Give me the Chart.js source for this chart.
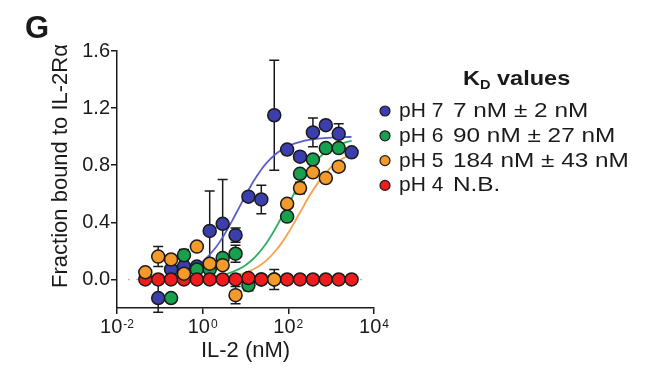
<!DOCTYPE html>
<html>
<head>
<meta charset="utf-8">
<script src="https://cdn.jsdelivr.net/npm/chart.js@4.4.1/dist/chart.umd.min.js"></script>
<style>
  html, body { margin: 0; padding: 0; background: #fff; }
</style>
</head>
<body>
<canvas id="kdChart" width="650" height="374"></canvas>
<script>
// IL-2 concentrations (nM), 2-fold dilution series
const CONC = [0.0458, 0.0916, 0.183, 0.366, 0.732, 1.46, 2.93, 5.86, 11.7, 23.4, 46.9, 93.8, 187.5, 375, 750, 1500, 3000];

// fraction bound (null = hidden / not shown)
const PH7 = [null, -0.13, 0.07, 0.09, 0.09, 0.34, 0.39, 0.31, 0.58, 0.56, 1.15, 0.91, 0.86, 1.03, 1.08, 1.02, 0.89];
const PH6 = [null, null, -0.13, 0.17, 0.07, 0.07, 0.15, 0.18, -0.04, 0.0, null, 0.44, 0.74, 0.84, 0.92, 0.92, null];
const PH5 = [0.05, 0.16, 0.14, 0.04, 0.23, 0.11, 0.10, -0.11, null, null, 0.0, 0.53, 0.64, 0.75, 0.71, 0.79, null];
const PH4 = [0, 0, 0, 0, 0, 0, 0, 0, 0.01, 0, 0, 0, 0, 0, 0, 0, 0];

// error bar half-widths (null = no visible bar)
const PH7_ERR = [null, 0.1, null, null, null, 0.28, 0.31, 0.05, null, 0.1, 0.385, null, 0.03, 0.1, null, 0.07, null];
const PH6_ERR = [null, null, null, 0.04, null, null, null, 0.06, 0.04, null, null, null, null, null, null, null, null];
const PH5_ERR = [null, 0.07, null, null, null, null, null, 0.06, null, null, 0.07, null, 0.04, null, null, null, null];
const PH4_ERR = [null, 0.02, null, null, null, null, null, null, 0.02, null, null, null, null, null, null, null, null];

// fitted binding curves sampled off the figure
const FIT_X = [0.046, 0.1, 0.2, 0.5, 1, 2, 3, 5, 7, 10, 15, 20, 30, 50, 70, 100, 150, 200, 300, 500, 700, 1000, 1500, 2000, 3000];
const FIT_PH7 = [0.0065, 0.014, 0.028, 0.067, 0.125, 0.222, 0.30, 0.417, 0.50, 0.588, 0.682, 0.741, 0.811, 0.877, 0.909, 0.935, 0.955, 0.966, 0.977, 0.986, 0.990, 0.993, 0.995, 0.997, 0.998];
const FIT_PH6 = [0.0005, 0.0011, 0.0022, 0.0055, 0.011, 0.022, 0.032, 0.053, 0.072, 0.10, 0.143, 0.182, 0.25, 0.357, 0.4375, 0.526, 0.625, 0.69, 0.769, 0.847, 0.886, 0.917, 0.943, 0.957, 0.971];
const FIT_PH5 = [0.0002, 0.0005, 0.001, 0.0025, 0.005, 0.010, 0.015, 0.0246, 0.034, 0.048, 0.070, 0.091, 0.130, 0.199, 0.256, 0.327, 0.418, 0.484, 0.577, 0.680, 0.736, 0.786, 0.828, 0.852, 0.876];

// dotted baseline ends
const BASE_X = [0.018, 5800];
const BASE_Y = [0, 0];

const X_TICKS = [0.01, 1, 100, 10000];
const X_EXP = ['-2', '0', '2', '4'];
const Y_TICKS = [0, 0.4, 0.8, 1.2, 1.6];

const LEGEND_PH = ['pH 7', 'pH 6', 'pH 5', 'pH 4'];
const LEGEND_KD = ['7 nM \u00b1 2 nM', '90 nM \u00b1 27 nM', '184 nM \u00b1 43 nM', 'N.B.'];
const Y_TITLE = 'Fraction bound to IL-2R\u03b1';

const FONT = '"Liberation Sans", Arial, Helvetica, sans-serif';
const INK = '#1a1a1a';

const COLORS = {
    ph7: '#3b3fae',
    ph6: '#17a04e',
    ph5: '#f39a2b',
    ph4: '#ee1c1c'
};
const LINE_COLORS = {
    ph7: '#5a5ecb',
    ph6: '#2fb066',
    ph5: '#f6a24c'
};

const SERIES = [
    { key: 'ph7', values: PH7, err: PH7_ERR },
    { key: 'ph6', values: PH6, err: PH6_ERR },
    { key: 'ph5', values: PH5, err: PH5_ERR },
    { key: 'ph4', values: PH4, err: PH4_ERR }
];

function toPoints(xs, ys) {
    const pts = [];
    xs.forEach((x, i) => {
        if (ys[i] !== null) pts.push({ x: x, y: ys[i] });
    });
    return pts;
}

function pointSet(label, values, color, order) {
    return {
        type: 'scatter',
        label: label,
        data: toPoints(CONC, values),
        backgroundColor: color,
        borderColor: INK,
        borderWidth: 1.5,
        pointRadius: 6.5,
        order: order
    };
}

function curveSet(values, color, order) {
    return {
        type: 'line',
        data: toPoints(FIT_X, values),
        borderColor: color,
        borderWidth: 1.8,
        pointRadius: 0,
        fill: false,
        cubicInterpolationMode: 'monotone',
        order: order
    };
}

// error bars go under the markers
const errorBars = {
    id: 'errorBars',
    beforeDatasetsDraw(chart) {
        const { ctx, scales: { x, y } } = chart;
        ctx.save();
        ctx.strokeStyle = INK;
        ctx.lineWidth = 1.5;
        SERIES.forEach(s => {
            s.values.forEach((v, i) => {
                const e = s.err[i];
                if (v === null || e === null) return;
                const px = x.getPixelForValue(CONC[i]);
                const top = y.getPixelForValue(v + e);
                const bot = y.getPixelForValue(v - e);
                ctx.beginPath();
                ctx.moveTo(px, top); ctx.lineTo(px, bot);
                ctx.moveTo(px - 5, top); ctx.lineTo(px + 5, top);
                ctx.moveTo(px - 5, bot); ctx.lineTo(px + 5, bot);
                ctx.stroke();
            });
        });
        ctx.restore();
    }
};

function wideText(ctx, text, x, y, sx) {
    ctx.save();
    ctx.translate(x, y);
    ctx.scale(sx, 1);
    ctx.fillText(text, 0, 0);
    ctx.restore();
}

// panel letter, y title, x tick labels with exponents, KD legend
const annotations = {
    id: 'annotations',
    afterDraw(chart) {
        const { ctx, scales: { x } } = chart;
        ctx.save();
        ctx.fillStyle = INK;
        ctx.textBaseline = 'alphabetic';

        ctx.font = 'bold 31px ' + FONT;
        ctx.textAlign = 'left';
        ctx.fillText('G', 25, 38);

        // rotated y title
        ctx.save();
        ctx.translate(61, 166);
        ctx.rotate(-Math.PI / 2);
        ctx.font = '22px ' + FONT;
        ctx.textAlign = 'center';
        ctx.textBaseline = 'middle';
        ctx.fillText(Y_TITLE, 0, 0);
        ctx.restore();

        X_TICKS.forEach((v, i) => {
            const px = x.getPixelForValue(v);
            ctx.font = '20px ' + FONT;
            const wBase = ctx.measureText('10').width;
            ctx.font = '12px ' + FONT;
            const wExp = ctx.measureText(X_EXP[i]).width;
            const left = px - (wBase + 1 + wExp) / 2;
            ctx.font = '20px ' + FONT;
            ctx.fillText('10', left, 333);
            ctx.font = '12px ' + FONT;
            ctx.fillText(X_EXP[i], left + wBase + 1, 328);
        });

        const sx = 1.12;
        ctx.font = 'bold 21px ' + FONT;
        wideText(ctx, 'K', 463, 85, sx);
        const wK = ctx.measureText('K').width * sx;
        ctx.font = 'bold 13px ' + FONT;
        wideText(ctx, 'D', 463 + wK, 89, sx);
        const wD = ctx.measureText('D').width * sx;
        ctx.font = 'bold 21px ' + FONT;
        wideText(ctx, ' values', 463 + wK + wD, 85, sx);

        const keys = ['ph7', 'ph6', 'ph5', 'ph4'];
        LEGEND_PH.forEach((label, i) => {
            const base = 117 + i * 24.8;
            ctx.beginPath();
            ctx.arc(385, base - 6, 5, 0, Math.PI * 2);
            ctx.fillStyle = COLORS[keys[i]];
            ctx.fill();
            ctx.lineWidth = 1.2;
            ctx.strokeStyle = INK;
            ctx.stroke();
            ctx.fillStyle = INK;
            ctx.font = '21px ' + FONT;
            wideText(ctx, label, 399, base, 1.0);
            wideText(ctx, LEGEND_KD[i], 453, base, 1.16);
        });
        ctx.restore();
    }
};

Chart.defaults.font.family = FONT;
Chart.defaults.color = INK;

new Chart(document.getElementById('kdChart'), {
    data: {
        datasets: [
            pointSet('pH 5', PH5, COLORS.ph5, 1),
            pointSet('pH 4', PH4, COLORS.ph4, 2),
            pointSet('pH 6', PH6, COLORS.ph6, 3),
            pointSet('pH 7', PH7, COLORS.ph7, 4),
            curveSet(FIT_PH5, LINE_COLORS.ph5, 5),
            curveSet(FIT_PH6, LINE_COLORS.ph6, 6),
            curveSet(FIT_PH7, LINE_COLORS.ph7, 7),
            {
                type: 'line',
                data: toPoints(BASE_X, BASE_Y),
                borderColor: '#b8b8b8',
                borderWidth: 1.5,
                borderDash: [2, 6],
                pointRadius: 0,
                order: 8
            }
        ]
    },
    options: {
        responsive: false,
        animation: false,
        events: [],
        layout: { padding: { left: 0, right: 276, top: 51, bottom: 0 } },
        plugins: {
            legend: { display: false },
            tooltip: { enabled: false }
        },
        scales: {
            x: {
                type: 'logarithmic',
                min: 0.01,
                max: 10000,
                afterBuildTicks: s => { s.ticks = X_TICKS.map(v => ({ value: v })); },
                afterFit: s => { s.height = 66; s.paddingLeft = 0; s.paddingRight = 0; },
                ticks: { display: false },
                grid: { drawOnChartArea: false, drawTicks: true, tickLength: 6, color: INK, lineWidth: 1.5 },
                border: { color: INK, width: 1.5 },
                title: {
                    display: true,
                    text: 'IL-2 (nM)',
                    font: { size: 22 },
                    padding: { top: 0, bottom: 10 }
                }
            },
            y: {
                type: 'linear',
                min: -0.2,
                max: 1.6,
                afterBuildTicks: s => { s.ticks = Y_TICKS.map(v => ({ value: v })); },
                afterFit: s => { s.width = 117; s.paddingTop = 0; s.paddingBottom = 0; },
                ticks: {
                    font: { size: 20 },
                    padding: 1,
                    callback: v => Number(v).toFixed(1)
                },
                grid: { drawOnChartArea: false, drawTicks: true, tickLength: 6, color: INK, lineWidth: 1.5 },
                border: { color: INK, width: 1.5 }
            }
        }
    },
    plugins: [errorBars, annotations]
});
</script>
</body>
</html>
